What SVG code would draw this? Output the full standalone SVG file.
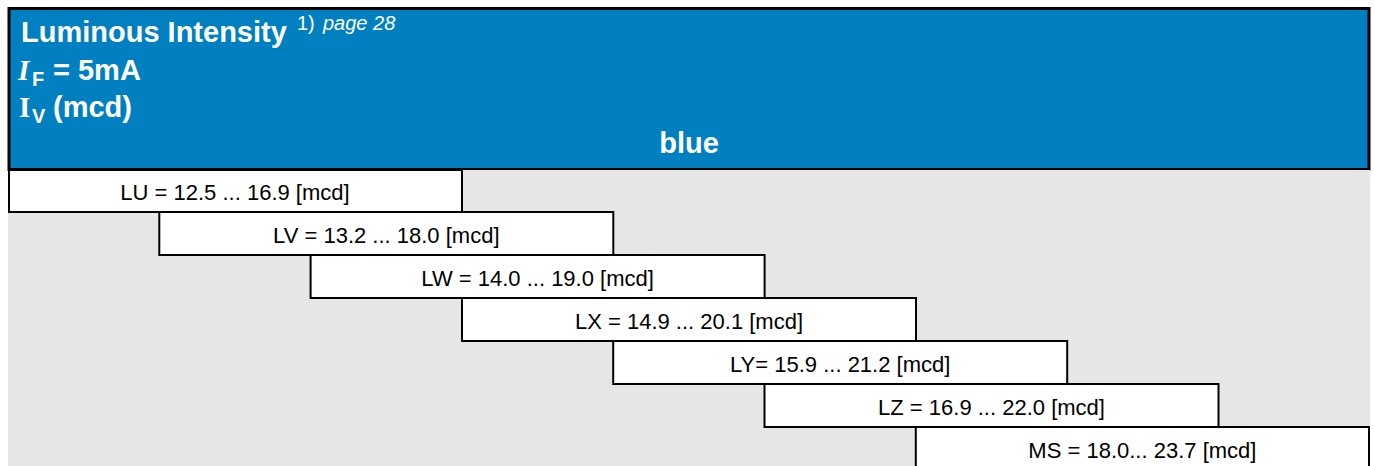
<svg xmlns="http://www.w3.org/2000/svg" width="1374" height="466" viewBox="0 0 1374 466">
<style>
.hd{font-family:"Liberation Sans",Arial,sans-serif;font-weight:bold;fill:#fff;font-size:29px}
.sub{font-size:20px}
.ser{font-family:"Liberation Serif","Times New Roman",serif;font-weight:bold}
.box rect{fill:#fff;stroke:#000;stroke-width:2}
.box text{font-family:"Liberation Sans",Arial,sans-serif;font-size:22px;fill:#000;text-anchor:middle}
</style>
<rect x="0" y="0" width="1374" height="466" fill="#fff"/>
<g id="header">
<rect x="9" y="8.5" width="1360" height="161" fill="#0080C0" stroke="#000" stroke-width="3"/>
<rect x="8" y="170" width="1362" height="296" fill="#E6E6E6"/>
<text class="hd" x="21" y="42">Luminous Intensity<tspan x="297" y="30" font-size="20" font-weight="normal">1)</tspan><tspan x="323" y="30" font-size="20" font-weight="normal" font-style="italic">page 28</tspan></text>
<text class="hd" y="80"><tspan class="ser" x="18" font-style="italic">I</tspan><tspan class="sub" x="32" y="86">F</tspan><tspan x="53" y="80">= 5mA</tspan></text>
<text class="hd" y="117"><tspan class="ser" x="19">I</tspan><tspan class="sub" x="32" y="123">V</tspan><tspan x="53" y="117">(mcd)</tspan></text>
<text class="hd" x="689" y="153" text-anchor="middle">blue</text>
</g>
<g id="LU" class="box"><rect x="9" y="170" width="453" height="42"/><text x="235" y="200">LU = 12.5 ... 16.9 [mcd]</text></g>
<g id="LV" class="box"><rect x="159.3" y="212" width="454" height="43"/><text x="386.3" y="243">LV = 13.2 ... 18.0 [mcd]</text></g>
<g id="LW" class="box"><rect x="310.6" y="255" width="454" height="43"/><text x="537.6" y="286">LW = 14.0 ... 19.0 [mcd]</text></g>
<g id="LX" class="box"><rect x="462" y="298" width="454" height="43"/><text x="689" y="329">LX = 14.9 ... 20.1 [mcd]</text></g>
<g id="LY" class="box"><rect x="613.2" y="341" width="454" height="43"/><text x="840.2" y="372">LY= 15.9 ... 21.2 [mcd]</text></g>
<g id="LZ" class="box"><rect x="764.5" y="384" width="454" height="43"/><text x="991.5" y="415">LZ = 16.9 ... 22.0 [mcd]</text></g>
<g id="MS" class="box"><rect x="915.8" y="427" width="453.2" height="43"/><text x="1142.4" y="458">MS = 18.0... 23.7 [mcd]</text></g>
<g id="connectors"></g>
</svg>
